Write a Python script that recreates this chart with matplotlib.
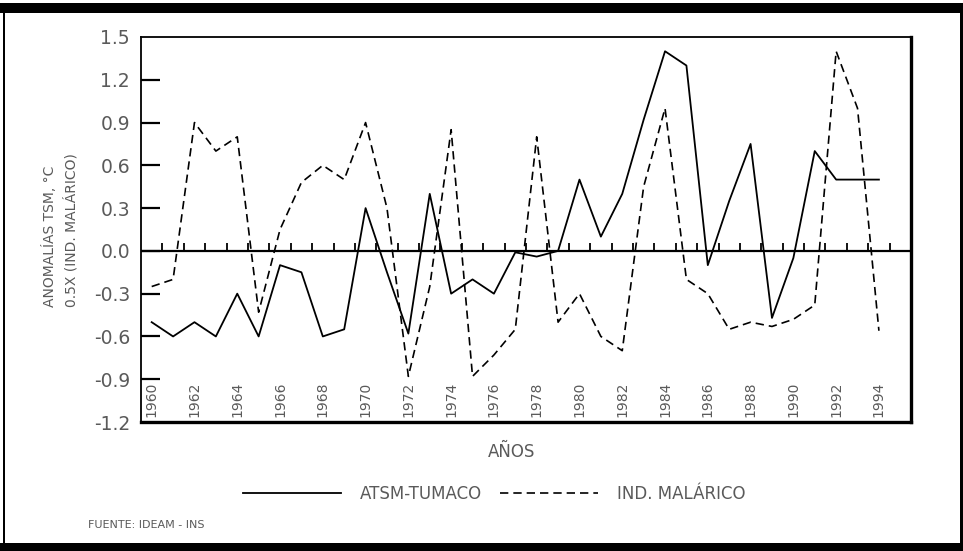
import matplotlib
matplotlib.use('Agg')
import matplotlib.pyplot as plt
from matplotlib.patches import Rectangle
from matplotlib.transforms import blended_transform_factory

years = list(range(1960, 1995))
atsm_tumaco = [-0.50, -0.60, -0.50, -0.60, -0.30, -0.60, -0.10, -0.15, -0.60, -0.55,
               0.30, -0.15, -0.58, 0.40, -0.30, -0.20, -0.30, -0.01, -0.04, 0.00,
               0.50, 0.10, 0.40, 0.92, 1.40, 1.30, -0.10, 0.35, 0.75, -0.47,
               -0.05, 0.70, 0.50, 0.50, 0.50]
ind_malarico = [-0.25, -0.20, 0.90, 0.70, 0.80, -0.43, 0.15, 0.48, 0.60, 0.50,
                0.90, 0.30, -0.88, -0.25, 0.85, -0.88, -0.73, -0.55, 0.80, -0.50,
                -0.30, -0.60, -0.70, 0.45, 1.00, -0.20, -0.30, -0.55, -0.50, -0.53,
                -0.48, -0.38, 1.40, 1.00, -0.56]
year_labels = [str(y) for y in range(1960, 1995, 2)]
y_ticks = [1.5, 1.2, 0.9, 0.6, 0.3, 0.0, -0.3, -0.6, -0.9, -1.2]
y_tick_labels = ['1.5', '1.2', '0.9', '0.6', '0.3', '0.0', '-0.3', '-0.6', '-0.9', '-1.2']

grey = '#5a5a5a'

fig = plt.figure(figsize=(9.63, 5.51), dpi=100)
ax = fig.add_axes([141 / 963, 1 - 422 / 551, 770 / 963, 385 / 551])

l1, = ax.plot(years, atsm_tumaco, color='black', lw=1.3, label='ATSM-TUMACO')
l2, = ax.plot(years, ind_malarico, color='black', lw=1.2, linestyle=(0, (5, 3)),
              label='IND. MALÁRICO')

ax.set_xlim(1959.5, 1995.5)
ax.set_ylim(-1.2, 1.5)

# zero line with small year ticks on top
ax.axhline(0, color='black', lw=1.6)
ax.vlines([y + 0.5 for y in years], 0, 0.055, color='black', lw=1.3)

ax.set_xticks([])
ax.set_yticks(y_ticks)
ax.set_yticklabels(y_tick_labels, fontsize=13.5, color=grey)
ax.tick_params(axis='y', direction='in', length=14, width=1.6, pad=8)
# no tick marks at the two ends, only the labels
ticks = ax.yaxis.get_major_ticks()
ticks[0].tick1line.set_visible(False)
ticks[-1].tick1line.set_visible(False)

for side in ['left', 'top']:
    ax.spines[side].set_linewidth(1.3)
for side in ['right', 'bottom']:
    ax.spines[side].set_linewidth(2.4)

trans = blended_transform_factory(ax.transData, ax.transAxes)
for lab in year_labels:
    ax.text(int(lab), 0.012, lab, transform=trans, rotation=90, ha='center',
            va='bottom', fontsize=10, color=grey)

fig.text(49 / 963, 1 - 307 / 551, 'ANOMALÍAS TSM, °C', rotation=90,
         ha='center', va='bottom', fontsize=10, color=grey)
fig.text(71 / 963, 1 - 307 / 551, '0.5X (IND. MALÁRICO)', rotation=90,
         ha='center', va='bottom', fontsize=10, color=grey)

fig.text(512 / 963, 1 - 452 / 551, 'AÑOS', ha='center', va='center',
         fontsize=12, color=grey)

leg = fig.legend(handles=[l1, l2], loc='center', bbox_to_anchor=(494 / 963, 1 - 494 / 551),
                 ncol=2, frameon=False, fontsize=12, handlelength=5.9,
                 handletextpad=1.1, columnspacing=1.1)
for t in leg.get_texts():
    t.set_color(grey)

fig.text(88 / 963, 1 - 525 / 551, 'FUENTE: IDEAM - INS', ha='left', va='center',
         fontsize=8, color=grey)

# black frame around the figure
W, H = 963, 551
frame = [
    (0, H - 13.3, W, 10),     # top bar
    (0, 0, W, 8),             # bottom bar
    (3.3, 0, 1.5, H - 3.3),   # left line
    (960, 0, 3, H - 3.3),     # right line
]
for x0, y0, w, h in frame:
    fig.add_artist(Rectangle((x0 / W, y0 / H), w / W, h / H, transform=fig.transFigure,
                             facecolor='black', edgecolor='none'))

fig.savefig('out.png', dpi=100)
